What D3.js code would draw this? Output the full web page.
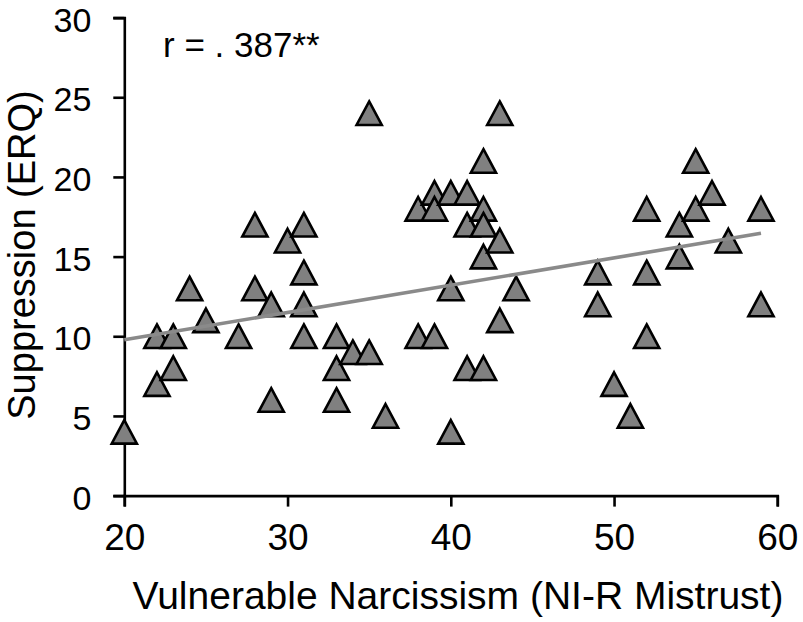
<!DOCTYPE html>
<html>
<head>
<meta charset="utf-8">
<script src="https://cdn.jsdelivr.net/npm/d3@7"></script>
<style>
  body { margin: 0; background: #fff; }
  svg { display: block; font-family: "Liberation Sans", Arial, sans-serif; }
</style>
</head>
<body>
<div id="chart"></div>
<script>
// mistrust score (x) and suppression score (y), one entry per participant
const mistrust = [20, 22, 22, 23, 23, 24, 25, 27, 28, 28, 29, 29, 30, 31, 31, 31, 31,
    33, 33, 33, 34, 35, 35, 36, 38, 38, 39, 39, 39, 40, 40, 40, 41, 41, 41,
    42, 42, 42, 42, 42, 43, 43, 43, 44, 49, 49, 50, 51, 52, 52, 52, 54, 54,
    55, 55, 56, 57, 59, 59];
const suppression = [4, 10, 7, 10, 8, 13, 11, 10, 17, 13, 12, 6, 16, 17, 14, 12, 10,
    10, 8, 6, 9, 9, 24, 5, 18, 10, 19, 18, 10, 19, 13, 4, 19, 17, 8,
    21, 18, 17, 15, 8, 24, 16, 11, 13, 14, 12, 7, 5, 18, 14, 10, 17, 15,
    21, 18, 19, 16, 18, 12];

// linear trend line ends
const trendX = [20, 59];
const trendY = [9.78, 16.46];

const xTicks = [20, 30, 40, 50, 60];
const yTicks = [0, 5, 10, 15, 20, 25, 30];
const rLabel = 'r = . 387**';

const width = 803, height = 622;
const svg = d3.select('#chart').append('svg')
    .attr('width', width)
    .attr('height', height);

const x = d3.scaleLinear().domain([20, 60]).range([124.3, 777.3]);
const y = d3.scaleLinear().domain([0, 30]).range([495.6, 17.6]);

const xAxis = svg.append('g')
    .attr('transform', `translate(0,${y(0)})`)
    .call(d3.axisBottom(x).tickValues(xTicks).tickSize(11).tickPadding(17).tickFormat(d3.format('d')));

const yAxis = svg.append('g')
    .attr('transform', `translate(${x(20)},0)`)
    .call(d3.axisLeft(y).tickValues(yTicks).tickSize(11).tickPadding(22).tickFormat(d3.format('d')));

[xAxis, yAxis].forEach(a => {
    a.selectAll('path, line').attr('stroke', '#000').attr('stroke-width', 2.6);
    a.selectAll('text').attr('fill', '#000')
        .style('font-family', '"Liberation Sans", Arial, sans-serif');
});
xAxis.selectAll('text').style('font-size', '37px');
yAxis.selectAll('text').style('font-size', '34px').attr('dy', '0.4em');

// triangle markers, bounding box centered on the data point
const hw = 12.6, hh = 11.8;
const pts = mistrust.map((d, i) => ({ x: d, y: suppression[i] }));

svg.append('g').selectAll('path')
    .data(pts)
    .enter().append('path')
    .attr('d', d => {
        const cx = x(d.x), cy = y(d.y);
        return `M${cx},${cy - hh}L${cx + hw},${cy + hh}L${cx - hw},${cy + hh}Z`;
    })
    .attr('fill', '#808080')
    .attr('stroke', '#000')
    .attr('stroke-width', 2.6)
    .attr('stroke-linejoin', 'miter');

const line = d3.line()
    .x(d => x(d[0]))
    .y(d => y(d[1]));

svg.append('path')
    .datum(trendX.map((d, i) => [d, trendY[i]]))
    .attr('d', line)
    .attr('fill', 'none')
    .attr('stroke', '#8a8a8a')
    .attr('stroke-width', 3.6);

svg.append('text')
    .attr('x', 163)
    .attr('y', 57)
    .style('font-size', '35px')
    .text(rLabel);

svg.append('text')
    .attr('x', 458)
    .attr('y', 609)
    .attr('text-anchor', 'middle')
    .style('font-size', '39px')
    .text('Vulnerable Narcissism (NI-R Mistrust)');

svg.append('text')
    .attr('transform', 'translate(35,255) rotate(-90)')
    .attr('text-anchor', 'middle')
    .style('font-size', '38px')
    .text('Suppression (ERQ)');
</script>
</body>
</html>
